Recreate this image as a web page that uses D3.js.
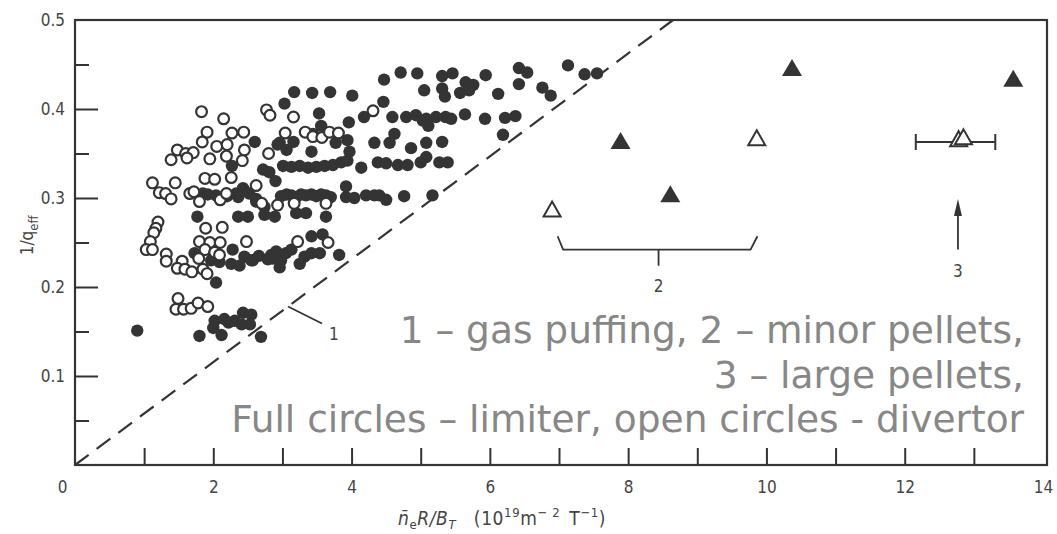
<!DOCTYPE html>
<html>
<head>
<meta charset="utf-8">
<script src="https://cdn.jsdelivr.net/npm/d3@7"></script>
<style>
  body { margin: 0; background: #fff; }
  svg { display: block; }
  .tick text {
    font-family: "Liberation Sans Narrow", "DejaVu Sans Condensed", sans-serif;
    font-size: 17px;
    fill: #444;
  }
  .tick line { stroke: #333; stroke-width: 2; }
  .lbl {
    font-family: "Liberation Sans Narrow", "DejaVu Sans Condensed", sans-serif;
    font-size: 17px;
    fill: #444;
  }
</style>
</head>
<body>
<svg id="chart"></svg>
<script>
// full circles - limiter discharges
const limiterCircles = [
  [2.60, 0.363], [2.93, 0.360], [2.27, 0.336], [2.72, 0.332], [2.81, 0.329],
  [2.90, 0.319], [1.85, 0.305], [2.04, 0.303], [2.33, 0.305], [2.43, 0.311],
  [2.36, 0.301], [2.62, 0.296], [1.77, 0.279], [2.36, 0.279], [2.50, 0.279],
  [2.74, 0.281], [2.89, 0.279], [1.73, 0.238], [1.95, 0.245], [1.97, 0.230],
  [2.09, 0.228], [2.28, 0.242], [2.26, 0.226], [2.38, 0.224], [2.45, 0.234],
  [2.57, 0.230], [2.66, 0.235], [2.86, 0.232], [2.04, 0.205], [2.02, 0.162],
  [2.16, 0.164], [2.31, 0.162], [2.43, 0.171], [2.55, 0.169], [2.41, 0.158],
  [2.00, 0.154], [2.12, 0.146], [1.80, 0.145], [0.90, 0.151], [2.69, 0.144],
  [2.53, 0.158], [2.22, 0.160], [1.92, 0.304], [2.20, 0.302], [2.52, 0.305],
  [2.98, 0.302], [3.06, 0.304], [3.13, 0.303], [3.20, 0.301], [3.27, 0.304],
  [3.34, 0.303], [3.42, 0.304], [3.49, 0.302], [3.56, 0.304], [3.63, 0.303],
  [3.70, 0.301], [3.92, 0.313], [3.92, 0.301], [4.04, 0.300], [4.21, 0.303],
  [4.33, 0.303], [4.40, 0.303], [4.50, 0.298], [4.76, 0.302], [5.17, 0.303],
  [2.62, 0.299], [2.74, 0.290], [3.20, 0.283], [3.34, 0.283], [3.63, 0.279],
  [3.42, 0.257], [3.58, 0.259], [3.82, 0.236], [2.91, 0.240], [2.98, 0.230],
  [3.05, 0.238], [3.13, 0.242], [3.25, 0.226], [3.32, 0.234], [3.42, 0.238],
  [3.54, 0.238], [2.96, 0.222], [2.79, 0.231], [2.84, 0.236], [2.55, 0.230],
  [4.71, 0.441], [4.95, 0.440], [4.47, 0.433], [5.31, 0.437], [3.17, 0.419],
  [3.43, 0.418], [3.69, 0.419], [4.01, 0.415], [5.05, 0.421], [5.31, 0.423],
  [5.35, 0.414], [3.03, 0.406], [4.46, 0.408], [3.53, 0.395], [4.18, 0.391],
  [3.96, 0.385], [4.59, 0.391], [4.79, 0.391], [4.93, 0.393], [5.08, 0.389],
  [5.22, 0.391], [5.11, 0.381], [5.36, 0.391], [3.56, 0.381], [3.44, 0.372],
  [3.16, 0.363], [2.96, 0.362], [3.06, 0.354], [3.42, 0.352], [3.77, 0.362],
  [3.94, 0.365], [3.97, 0.352], [4.33, 0.362], [4.62, 0.372], [4.55, 0.362],
  [4.86, 0.356], [5.08, 0.362], [5.31, 0.363], [3.01, 0.336], [3.13, 0.335],
  [3.25, 0.336], [3.37, 0.334], [3.49, 0.335], [3.61, 0.336], [3.73, 0.337],
  [3.85, 0.340], [3.94, 0.342], [4.14, 0.334], [4.38, 0.340], [4.50, 0.339],
  [4.67, 0.337], [4.81, 0.337], [5.00, 0.340], [5.08, 0.346], [5.27, 0.340],
  [5.39, 0.340], [5.46, 0.440], [5.57, 0.418], [5.65, 0.430], [5.76, 0.427],
  [5.70, 0.421], [5.94, 0.438], [6.12, 0.417], [6.42, 0.446], [6.54, 0.441],
  [6.42, 0.428], [6.76, 0.424], [6.88, 0.415], [7.13, 0.449], [7.37, 0.439],
  [7.55, 0.440], [5.44, 0.389], [5.03, 0.387], [5.64, 0.394], [5.93, 0.389],
  [6.22, 0.390], [6.37, 0.392], [6.19, 0.371]
];

// open circles - divertor discharges
const divertorCircles = [
  [1.83, 0.397], [2.15, 0.389], [2.77, 0.399], [2.82, 0.393], [1.91, 0.374],
  [2.27, 0.373], [2.44, 0.374], [1.84, 0.363], [2.05, 0.358], [2.20, 0.360],
  [2.45, 0.354], [1.48, 0.354], [1.60, 0.350], [1.71, 0.351], [1.39, 0.343],
  [1.62, 0.345], [1.95, 0.344], [2.19, 0.347], [2.42, 0.342], [2.80, 0.350],
  [1.88, 0.322], [2.02, 0.321], [2.26, 0.323], [1.45, 0.317], [1.12, 0.317],
  [1.22, 0.306], [1.31, 0.305], [1.39, 0.299], [1.66, 0.305], [1.72, 0.307],
  [1.80, 0.296], [2.10, 0.298], [2.19, 0.305], [2.62, 0.314], [2.70, 0.294],
  [3.33, 0.374], [3.44, 0.369], [3.57, 0.368], [3.68, 0.374], [3.81, 0.373],
  [4.31, 0.398], [3.63, 0.294], [3.66, 0.250], [3.16, 0.391], [3.04, 0.373],
  [2.48, 0.251], [3.22, 0.251], [2.93, 0.292], [3.17, 0.294], [1.20, 0.273],
  [1.17, 0.266], [1.14, 0.261], [1.09, 0.251], [1.03, 0.242], [1.12, 0.242],
  [1.89, 0.266], [2.13, 0.267], [1.80, 0.251], [1.95, 0.250], [2.10, 0.250],
  [1.32, 0.237], [1.32, 0.229], [1.55, 0.229], [1.48, 0.221], [1.59, 0.220],
  [1.69, 0.217], [1.85, 0.220], [1.91, 0.215], [1.88, 0.242], [2.02, 0.239],
  [2.09, 0.236], [1.79, 0.232], [1.49, 0.187], [1.46, 0.175], [1.57, 0.175],
  [1.68, 0.176], [1.78, 0.182], [1.92, 0.178]
];

// pellet shots
const limiterTriangles = [[7.89, 0.363], [8.61, 0.303], [10.37, 0.445], [13.57, 0.433]];
const divertorTriangles = [[6.90, 0.286], [9.86, 0.366], [12.78, 0.365], [12.85, 0.367]];
const largePelletRange = [12.16, 13.31];
const largePelletLevel = 0.363;

// gas puffing limit (curve 1)
const gasPuffLimit = [[0, 0], [8.65, 0.5]];

const xMajor = [0, 2, 4, 6, 8, 10, 12, 14];
const xMinor = [1, 3, 5, 7, 9, 11, 13];
const yMajor = [0.1, 0.2, 0.3, 0.4, 0.5];
const yMinor = [0.05, 0.15, 0.25, 0.35, 0.45];

const notes = [
  "1 – gas puffing, 2 – minor pellets,",
  "3 – large pellets,",
  "Full circles – limiter, open circles - divertor"
];

const width = 1057;
const height = 534;
const INK = "#343434";

const svg = d3.select("#chart").attr("width", width).attr("height", height);

const x = d3.scaleLinear().domain([0, 14]).range([75, 1043]);
const y = d3.scaleLinear().domain([0, 0.5]).range([465, 20]);

// ticks (pointing inward)
svg.append("g")
  .attr("transform", `translate(0,${y(0)})`)
  .call(d3.axisBottom(x).tickValues(xMinor).tickSize(-17).tickFormat(""))
  .call((g) => g.select(".domain").remove());

const gx = svg.append("g")
  .attr("transform", `translate(0,${y(0)})`)
  .call(d3.axisBottom(x).tickValues(xMajor).tickSize(-17).tickPadding(16).tickFormat(d3.format("d")))
  .call((g) => g.select(".domain").remove());
gx.selectAll(".tick text").filter((d) => d === 0).attr("dx", -13);
gx.selectAll(".tick line").filter((d) => d === 0 || d === 14).remove();

svg.append("g")
  .attr("transform", `translate(${x(0)},0)`)
  .call(d3.axisLeft(y).tickValues(yMinor).tickSize(-14).tickFormat(""))
  .call((g) => g.select(".domain").remove());

const gy = svg.append("g")
  .attr("transform", `translate(${x(0)},0)`)
  .call(d3.axisLeft(y).tickValues(yMajor).tickSize(-23).tickPadding(10).tickFormat(d3.format(".1f")))
  .call((g) => g.select(".domain").remove());
gy.selectAll(".tick line").filter((d) => d === 0.5).remove();

// frame
svg.append("rect")
  .attr("x", x(0))
  .attr("y", y(0.5))
  .attr("width", x(14) + 4 - x(0))
  .attr("height", y(0) - y(0.5))
  .attr("fill", "none")
  .attr("stroke", INK)
  .attr("stroke-width", 2.2);

// axis titles
const yTitle = svg.append("text")
  .attr("class", "lbl")
  .attr("transform", `translate(33,${y(0.258)}) rotate(-90)`)
  .attr("text-anchor", "middle");
yTitle.append("tspan").text("1/q");
yTitle.append("tspan").attr("dy", 5).attr("font-size", 13).text("eff");

const xTitle = svg.append("text")
  .attr("class", "lbl")
  .attr("x", 398)
  .attr("y", 525)
  .style("font-size", "19px")
  .style("letter-spacing", "0.6px");
xTitle.append("tspan").attr("font-style", "italic").text("n\u0304");
xTitle.append("tspan").attr("dy", 4).attr("font-size", 13).text("e");
xTitle.append("tspan").attr("dy", -4).attr("font-style", "italic").text("R/B");
xTitle.append("tspan").attr("dy", 4).attr("font-size", 13).attr("font-style", "italic").text("T");
xTitle.append("tspan").attr("dy", -4).text("\u2003(10");
xTitle.append("tspan").attr("dy", -8).attr("font-size", 13).text("19");
xTitle.append("tspan").attr("dy", 8).text("m");
xTitle.append("tspan").attr("dy", -8).attr("font-size", 13).text("\u2212 2");
xTitle.append("tspan").attr("dy", 8).text("\u2002T");
xTitle.append("tspan").attr("dy", -8).attr("font-size", 13).text("\u22121");
xTitle.append("tspan").attr("dy", 8).text(")");

// dashed limit line
svg.append("path")
  .datum(gasPuffLimit)
  .attr("d", d3.line().x((d) => x(d[0])).y((d) => y(d[1])))
  .attr("fill", "none")
  .attr("stroke", INK)
  .attr("stroke-width", 2.2)
  .attr("stroke-dasharray", "17,10");

// label 1 with leader
const leadAt = 3.08;
const leadY = y((leadAt * gasPuffLimit[1][1]) / gasPuffLimit[1][0]);
svg.append("line")
  .attr("x1", x(leadAt))
  .attr("y1", leadY)
  .attr("x2", x(leadAt) + 34)
  .attr("y2", leadY + 17)
  .attr("stroke", INK)
  .attr("stroke-width", 1.8);
svg.append("text")
  .attr("class", "lbl")
  .attr("x", x(leadAt) + 46)
  .attr("y", leadY + 33)
  .attr("text-anchor", "middle")
  .text("1");

// circles
svg.append("g")
  .selectAll("circle")
  .data(limiterCircles)
  .join("circle")
  .attr("cx", (d) => x(d[0]))
  .attr("cy", (d) => y(d[1]))
  .attr("r", 6.2)
  .attr("fill", INK);

svg.append("g")
  .selectAll("circle")
  .data(divertorCircles)
  .join("circle")
  .attr("cx", (d) => x(d[0]))
  .attr("cy", (d) => y(d[1]))
  .attr("r", 5.4)
  .attr("fill", "#fff")
  .attr("stroke", INK)
  .attr("stroke-width", 2.2);

// error bar for the large pellets
svg.append("path")
  .attr("d", () => {
    const yy = y(largePelletLevel);
    const [a, b] = largePelletRange.map(x);
    return `M${a},${yy}H${b}M${a},${yy - 8}V${yy + 8}M${b},${yy - 8}V${yy + 8}`;
  })
  .attr("fill", "none")
  .attr("stroke", INK)
  .attr("stroke-width", 2);

// triangles
svg.append("g")
  .selectAll("path")
  .data(limiterTriangles)
  .join("path")
  .attr("d", (d) => `M${x(d[0])},${y(d[1]) - 10}l10,17h-20z`)
  .attr("fill", INK);

svg.append("g")
  .selectAll("path")
  .data(divertorTriangles)
  .join("path")
  .attr("d", (d) => `M${x(d[0])},${y(d[1]) - 9}l8.5,15h-17z`)
  .attr("fill", "#fff")
  .attr("stroke", INK)
  .attr("stroke-width", 2);

// bracket 2 (minor pellets)
svg.append("path")
  .attr("d", `M${x(6.98)},${y(0.257)}L${x(7.06)},${y(0.242)}H${x(9.77)}L${x(9.87)},${y(0.257)}M${x(8.44)},${y(0.242)}V${y(0.224)}`)
  .attr("fill", "none")
  .attr("stroke", INK)
  .attr("stroke-width", 1.8);
svg.append("text")
  .attr("class", "lbl")
  .attr("x", x(8.44))
  .attr("y", y(0.194))
  .attr("text-anchor", "middle")
  .text("2");

// arrow 3 (large pellets)
const arrowX = x(12.77);
svg.append("line")
  .attr("x1", arrowX)
  .attr("x2", arrowX)
  .attr("y1", y(0.242))
  .attr("y2", y(0.285))
  .attr("stroke", INK)
  .attr("stroke-width", 1.8);
svg.append("path")
  .attr("d", `M${arrowX},${y(0.299)}l4,17h-8z`)
  .attr("fill", INK);
svg.append("text")
  .attr("class", "lbl")
  .attr("x", arrowX)
  .attr("y", y(0.211))
  .attr("text-anchor", "middle")
  .text("3");

// caption overlay
svg.append("g")
  .selectAll("text")
  .data(notes)
  .join("text")
  .attr("x", x(14) - 19)
  .attr("y", (d, i) => 343 + i * 44.5)
  .attr("text-anchor", "end")
  .attr("font-family", "'DejaVu Sans', Verdana, sans-serif")
  .attr("font-size", 37.5)
  .attr("fill", "#878787")
  .text((d) => d);
</script>
</body>
</html>
